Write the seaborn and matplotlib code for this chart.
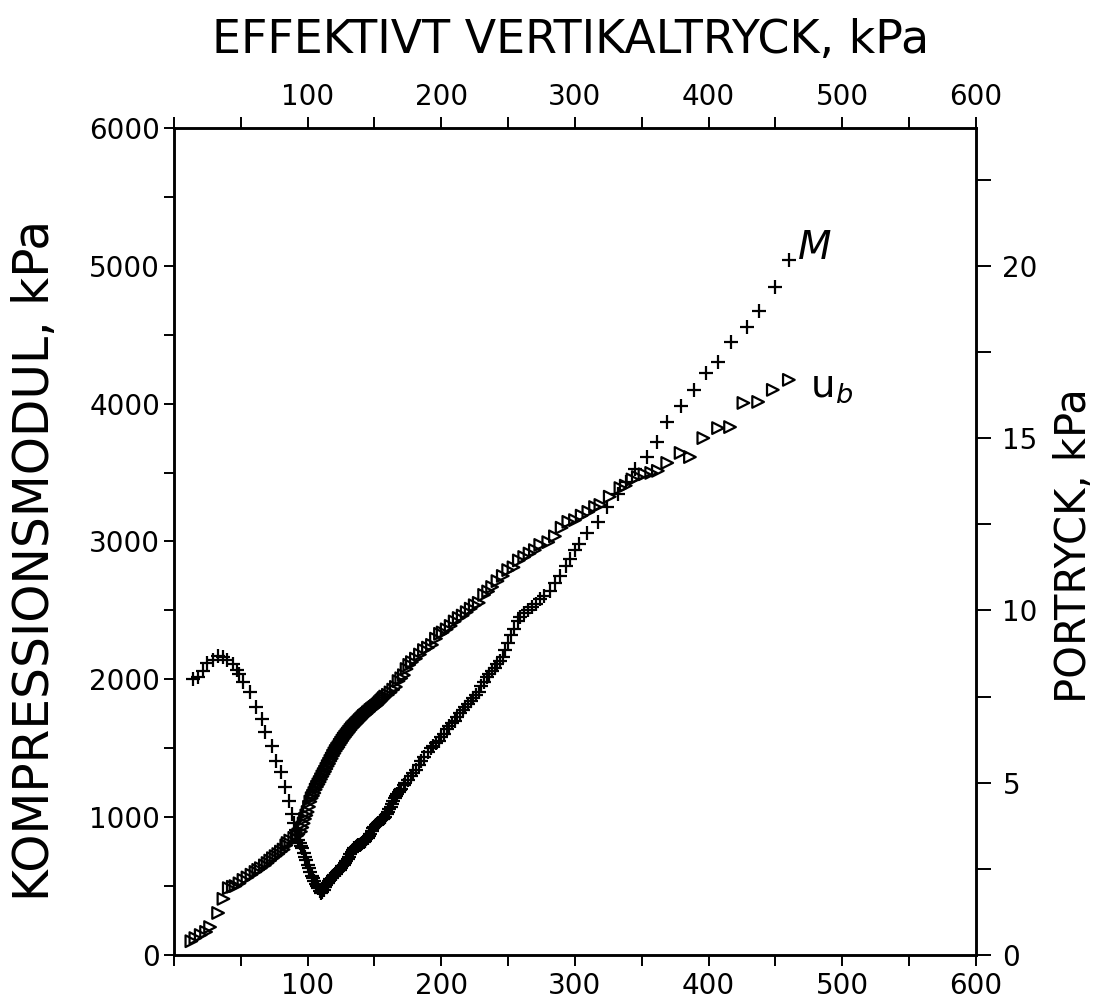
import matplotlib
matplotlib.use("Agg")
import matplotlib.pyplot as plt
import seaborn as sns
import pandas as pd
from matplotlib.ticker import MultipleLocator

# Kompressionsmodul M (kPa) vs effektivt vertikaltryck (kPa)
m_sigma = [14, 18, 22, 25, 29, 33, 37, 40, 44, 47, 49, 52, 57, 61, 66, 68, 73, 76, 80, 83,
           86, 88, 90, 91, 92, 93, 94, 95, 96, 97, 98, 99, 100, 101, 102, 103, 104, 105, 106, 107,
           108, 109, 110, 111, 112, 113, 114, 115, 116, 117, 118, 119, 120, 121, 122, 123, 124, 125, 126, 127,
           128, 129, 130, 131, 132, 133, 134, 135, 136, 137, 138, 139, 140, 141, 142, 143, 144, 145, 146, 147,
           148, 149, 150, 151, 152, 153, 154, 155, 156, 157, 158, 159, 160, 161, 162, 163, 164, 165, 166, 167,
           168, 169, 170, 172, 173, 175, 177, 179, 181, 183, 185, 187, 190, 192, 194, 196, 198, 200, 202, 204,
           206, 208, 210, 212, 214, 216, 218, 220, 222, 224, 226, 228, 230, 232, 234, 236, 238, 240, 242, 244,
           246, 248, 250, 252, 254, 257, 259, 262, 265, 268, 271, 274, 277, 281, 285, 289, 293, 296, 300, 303,
           309, 317, 324, 332, 338, 345, 354, 361, 369, 379, 389, 398, 407, 417, 429, 438, 450, 460]
m_modul = [2000, 2015, 2060, 2115, 2140, 2170, 2160, 2140, 2110, 2070, 2035, 1980, 1905, 1800, 1710, 1615, 1515, 1410, 1325, 1220,
           1115, 1025, 960, 910, 870, 835, 810, 790, 775, 740, 712, 690, 650, 630, 600, 575, 560, 540, 515, 500,
           485, 465, 450, 460, 470, 490, 510, 525, 540, 550, 560, 570, 580, 590, 600, 610, 620, 630, 645, 655,
           665, 680, 695, 710, 735, 750, 765, 775, 785, 790, 795, 800, 808, 815, 820, 830, 840, 852, 865, 880,
           900, 920, 930, 940, 950, 960, 970, 980, 988, 995, 1004, 1020, 1040, 1060, 1075, 1095, 1115, 1140, 1155, 1170,
           1185, 1195, 1205, 1235, 1250, 1270, 1295, 1320, 1345, 1375, 1405, 1440, 1475, 1500, 1515, 1535, 1550, 1580, 1605, 1640,
           1660, 1685, 1700, 1730, 1755, 1780, 1800, 1820, 1845, 1865, 1885, 1910, 1950, 1980, 2015, 2040, 2060, 2085, 2110, 2135,
           2160, 2210, 2265, 2320, 2365, 2420, 2455, 2480, 2505, 2525, 2545, 2580, 2605, 2640, 2700, 2750, 2820, 2875, 2940, 2980,
           3060, 3140, 3250, 3345, 3430, 3525, 3615, 3725, 3870, 3980, 4100, 4225, 4305, 4450, 4555, 4675, 4845, 5040]

# Portryck u_b (kPa) vs effektivt vertikaltryck (kPa)
u_sigma = [13, 16, 20, 24, 27, 33, 37, 41, 44, 46, 49, 52, 55, 58, 61, 63, 65, 68, 70, 72,
           74, 76, 78, 80, 82, 84, 85, 87, 90, 92, 93, 95, 96, 97, 98, 99, 100, 101, 102, 103,
           104, 105, 106, 107, 108, 109, 110, 111, 112, 113, 114, 115, 116, 117, 118, 119, 120, 121, 122, 123,
           124, 125, 126, 127, 128, 129, 130, 131, 132, 133, 134, 135, 136, 137, 138, 139, 140, 141, 142, 143,
           144, 145, 146, 147, 148, 149, 150, 151, 152, 153, 154, 155, 156, 157, 158, 160, 162, 164, 166, 168,
           170, 172, 174, 176, 178, 181, 184, 187, 190, 193, 196, 199, 201, 204, 207, 210, 213, 216, 219, 222,
           225, 228, 232, 235, 238, 242, 246, 250, 254, 258, 262, 266, 270, 274, 280, 285, 290, 295, 300, 305,
           310, 315, 319, 326, 334, 338, 343, 347, 352, 357, 362, 369, 379, 386, 396, 407, 416, 426, 437, 448, 460]
u_tryck = [0.40, 0.49, 0.58, 0.67, 0.81, 1.22, 1.63, 1.94, 1.98, 2.00, 2.08, 2.18, 2.25, 2.33, 2.41, 2.47, 2.52, 2.60, 2.67, 2.74,
           2.81, 2.87, 2.93, 3.00, 3.06, 3.18, 3.25, 3.32, 3.40, 3.46, 3.50, 3.58, 3.70, 3.82, 3.95, 4.05, 4.15, 4.30, 4.45, 4.55,
           4.62, 4.70, 4.80, 4.88, 4.95, 5.02, 5.10, 5.18, 5.25, 5.32, 5.40, 5.48, 5.55, 5.63, 5.70, 5.78, 5.85, 5.92, 5.98, 6.03,
           6.10, 6.16, 6.22, 6.28, 6.33, 6.38, 6.43, 6.48, 6.53, 6.58, 6.62, 6.66, 6.70, 6.74, 6.78, 6.82, 6.86, 6.90, 6.94, 6.97,
           7.00, 7.04, 7.07, 7.11, 7.14, 7.17, 7.20, 7.23, 7.26, 7.30, 7.34, 7.38, 7.42, 7.46, 7.50, 7.55, 7.62, 7.70, 7.78, 7.95,
           8.03, 8.12, 8.30, 8.42, 8.50, 8.60, 8.72, 8.85, 8.92, 9.00, 9.18, 9.32, 9.36, 9.45, 9.55, 9.68, 9.78, 9.85, 9.95, 10.05,
           10.15, 10.22, 10.45, 10.55, 10.68, 10.85, 11.00, 11.17, 11.25, 11.45, 11.55, 11.65, 11.75, 11.90, 11.98, 12.15, 12.40, 12.57, 12.62, 12.75,
           12.86, 13.00, 13.06, 13.30, 13.55, 13.62, 13.80, 13.87, 13.95, 13.99, 14.05, 14.28, 14.57, 14.45, 15.00, 15.29, 15.32, 16.02, 16.05, 16.40, 16.69]

bottom_ticks = [100, 200, 300, 400, 500, 600]
left_ticks = [0, 1000, 2000, 3000, 4000, 5000, 6000]
right_ticks = [0, 5, 10, 15, 20]

sns.set_style("ticks")
plt.rcParams["font.family"] = ["DejaVu Sans"]
plt.rcParams["mathtext.fontset"] = "dejavusans"
plt.rcParams["text.color"] = "black"
plt.rcParams["xtick.color"] = "black"
plt.rcParams["ytick.color"] = "black"
plt.rcParams["axes.edgecolor"] = "black"

m_df = pd.DataFrame({"sigma": m_sigma, "M": m_modul})
u_df = pd.DataFrame({"sigma": u_sigma, "u": u_tryck})

fig = plt.figure(figsize=(10.97, 10.06), dpi=100)
ax = fig.add_axes([0.1586, 0.0507, 0.7311, 0.8221])
ax2 = ax.twinx()

sns.scatterplot(data=m_df, x="sigma", y="M", ax=ax, marker="+", color="black",
                s=110, linewidth=1.6, legend=False, zorder=3)
sns.scatterplot(data=u_df, x="sigma", y="u", ax=ax2, marker=">", facecolor="none",
                edgecolor="black", s=70, linewidth=1.6, legend=False, zorder=3)

ax.set_xlim(0, 600)
ax.set_ylim(0, 6000)
ax2.set_ylim(0, 24)

ax.set_xticks(bottom_ticks)
ax.xaxis.set_minor_locator(MultipleLocator(50))
ax.set_yticks(left_ticks)
ax.yaxis.set_minor_locator(MultipleLocator(500))
ax2.set_yticks(right_ticks)
ax2.yaxis.set_minor_locator(MultipleLocator(2.5))

ax.set_xlabel("")
ax.set_ylabel("")
ax2.set_ylabel("")

ax.tick_params(axis="x", which="both", direction="out", top=True, labeltop=True,
               labelsize=20, pad=4, width=1.4, length=8, colors="black")
ax.tick_params(axis="y", which="both", direction="out", labelsize=20, pad=3,
               width=1.4, length=7, colors="black")
ax2.tick_params(axis="y", which="both", direction="out", labelsize=20, pad=8,
                width=1.4, length=11, colors="black")

for a in (ax, ax2):
    for sp in a.spines.values():
        sp.set_visible(True)
        sp.set_color("black")
        sp.set_linewidth(1.8)

fig.text(0.52, 0.960, "EFFEKTIVT VERTIKALTRYCK, kPa", ha="center", va="center",
         fontsize=33, color="black")
fig.text(0.032, 0.443, "KOMPRESSIONSMODUL, kPa", ha="center", va="center",
         rotation=90, fontsize=35, color="black")
fig.text(0.979, 0.458, "PORTRYCK, kPa", ha="center", va="center", rotation=90,
         fontsize=30, color="black")

ax.text(467, 5127, "M", ha="left", va="center", fontsize=28, style="italic", color="black")
ax.text(476, 4131, r"$\mathrm{u}_b$", ha="left", va="center", fontsize=28, color="black")

fig.savefig("out.png", dpi=100)
